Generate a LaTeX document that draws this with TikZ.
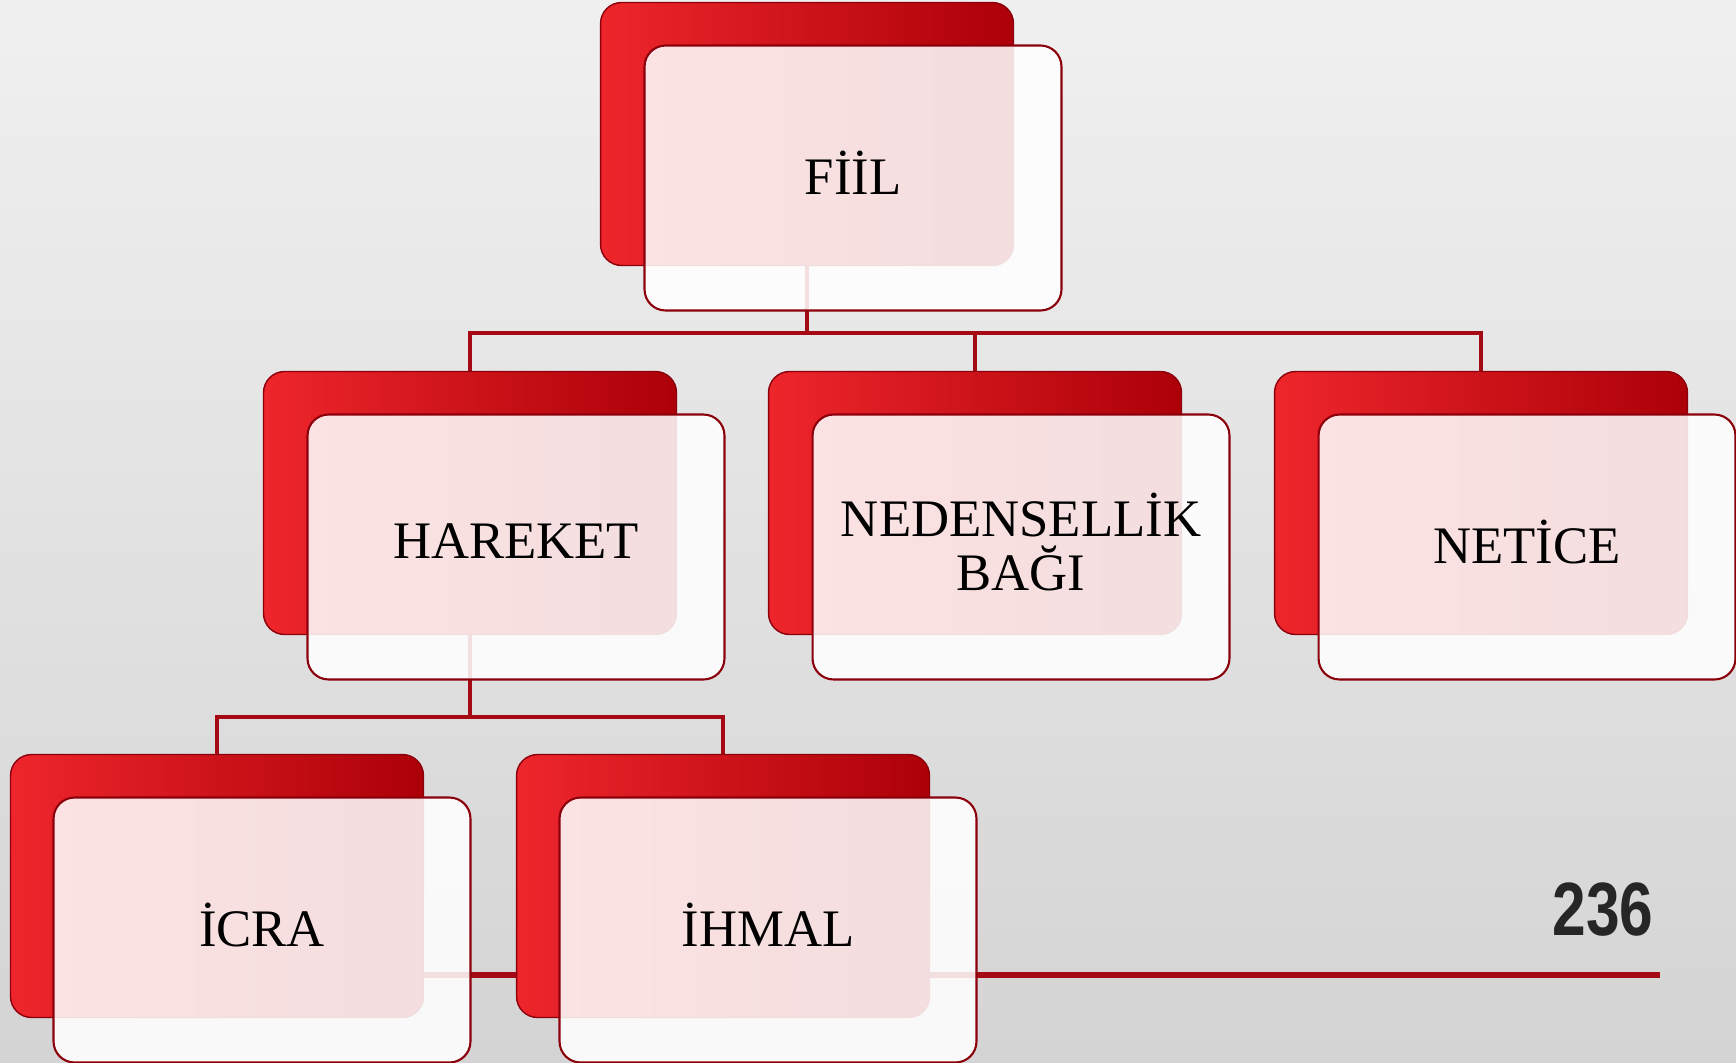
\documentclass[tikz,border=0pt]{standalone}
\usepackage{fontspec}
\setmainfont{Liberation Serif}
\newfontfamily\pagefont{Liberation Sans}
\definecolor{slidered}{RGB}{238,38,44}
\definecolor{darkred}{RGB}{172,0,8}
\definecolor{rimred}{RGB}{140,0,12}
\definecolor{linkred}{RGB}{165,10,20}
\definecolor{bgtop}{RGB}{240,240,240}
\definecolor{bgbot}{RGB}{212,212,212}
\definecolor{numgray}{RGB}{38,38,38}
\tikzset{
  redbox/.style={rounded corners=0.42cm, minimum width=8.26cm, minimum height=5.26cm,
    left color=slidered, right color=darkred, draw=rimred, line width=0.8pt},
  whitebox/.style={rounded corners=0.42cm, minimum width=8.34cm, minimum height=5.3cm,
    fill=white, fill opacity=0.87, text opacity=1, draw=rimred, line width=1.2pt,
    font=\fontsize{30}{31}\selectfont, align=center, text depth=0.22cm},
  link/.style={draw=linkred, line width=2.8pt},
  footline/.style={draw=linkred, line width=3.3pt}
}
\begin{document}
\begin{tikzpicture}[x=0.02cm, y=-0.02cm]
    % Background
    \shade[top color=bgtop, bottom color=bgbot] (0,0) rectangle (1736,1062);
    \useasboundingbox (0,0) rectangle (1736,1062);

    % Line at the foot of the slide
    \coordinate (footA) at (420,975);
    \coordinate (footB) at (1660,975);
    \draw[footline] (footA) -- (footB);

    % Red back boxes
    \node[redbox] (fiilR) at (807,134) {};
    \node[redbox] (harR) at (470,503) {};
    \node[redbox] (nedR) at (975,503) {};
    \node[redbox] (netR) at (1481,503) {};
    \node[redbox] (icraR) at (217,886) {};
    \node[redbox] (ihmR) at (723,886) {};

    % Connectors
    \coordinate (fiilJ) at (807,333);
    \coordinate (harJ) at (470,717);
    \draw[link] (fiilR.south) -- (fiilJ);
    \draw[link] (fiilJ) -| (harR.north);
    \draw[link] (fiilJ) -| (nedR.north);
    \draw[link] (fiilJ) -| (netR.north);
    \draw[link] (harR.south) -- (harJ);
    \draw[link] (harJ) -| (icraR.north);
    \draw[link] (harJ) -| (ihmR.north);

    % White front boxes with the texts
    \node[whitebox] (fiil) at (853,178) {FİİL};
    \node[whitebox] (hareket) at (516,547) {HAREKET};
    \node[whitebox] (neden) at (1021,547) {NEDENSELLİK\\BAĞI};
    \node[whitebox] (netice) at (1527,547) {NETİCE};
    \node[whitebox] (icra) at (262,930) {İCRA};
    \node[whitebox] (ihmal) at (768,930) {İHMAL};

    % Page number
    \node[text=numgray, font=\pagefont\bfseries\fontsize{43}{43}\selectfont] (page) at (1603,910) {\scalebox{0.8}[1]{236}};
\end{tikzpicture}
\end{document}
